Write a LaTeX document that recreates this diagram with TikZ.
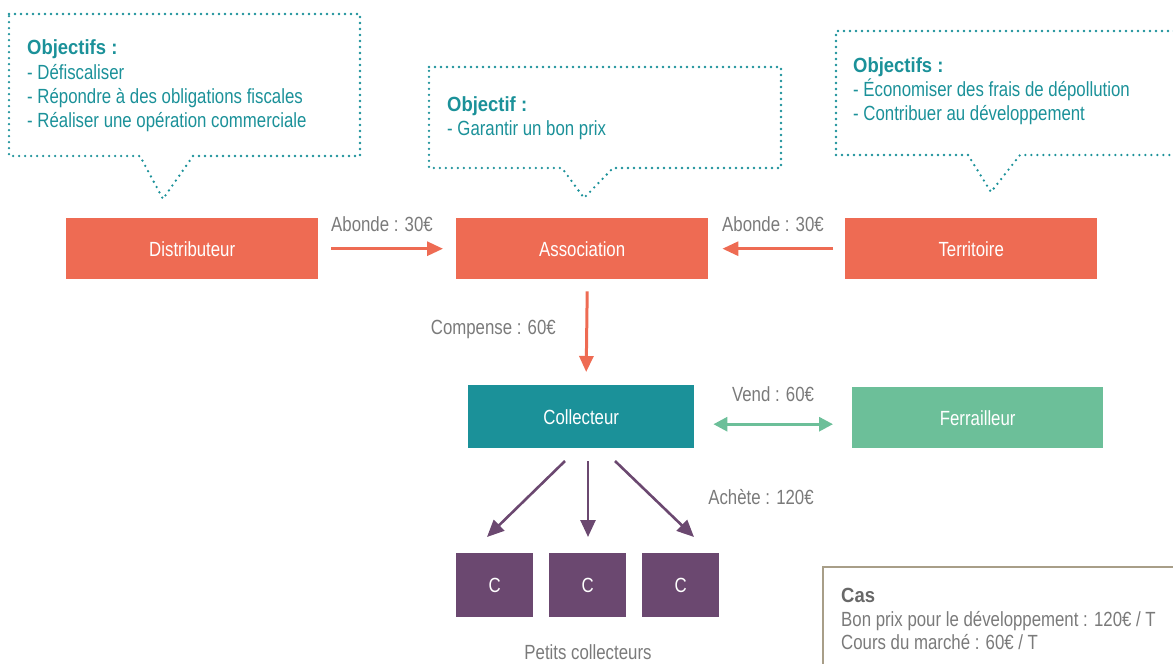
\documentclass[tikz,border=0pt]{standalone}
\usepackage{fontspec}
\setmainfont{Liberation Sans}[FakeStretch=0.82, BoldFeatures={FakeStretch=0.9}]
\usetikzlibrary{arrows.meta}

\definecolor{orangebox}{HTML}{EE6B53}
\definecolor{tealbox}{HTML}{1B9199}
\definecolor{greenbox}{HTML}{6CBF99}
\definecolor{purplebox}{HTML}{6B4870}
\definecolor{greytext}{HTML}{7A7A7A}
\definecolor{casframe}{HTML}{A89E88}

\tikzset{
  txt/.style={font=\fontsize{20.5}{24}\selectfont, inner sep=0pt},
  objtitle/.style={txt, font=\fontsize{20.5}{24}\selectfont\bfseries, text=tealbox, anchor=base west},
  objline/.style={txt, text=tealbox, anchor=base west},
  callout/.style={draw=tealbox, line width=2.6pt, dash pattern=on 0pt off 6pt, line cap=round, line join=round},
  flowbox/.style={txt, text=white, minimum width=252pt, minimum height=61pt, anchor=north west},
  smallbox/.style={txt, text=white, fill=purplebox, minimum width=77pt, minimum height=64pt, anchor=north west},
  lbl/.style={txt, text=greytext},
  orarrow/.style={draw=orangebox, line width=3pt, -{Triangle[length=16pt,width=14pt]}},
  purarrow/.style={draw=purplebox, line width=2.6pt, -{Triangle[length=17pt,width=15pt]}},
  grarrow/.style={draw=greenbox, line width=3pt, {Triangle[length=14pt,width=14pt]}-{Triangle[length=14pt,width=14pt]}},
}

\begin{document}
\begin{tikzpicture}[x=1pt,y=-1pt]
\useasboundingbox (0,0) rectangle (1173,664);

% speech bubbles with the goals of each actor
\draw[callout] (9,14) -- (360,14) -- (360,156) -- (193,156) -- (163,199) -- (140,156) -- (9,156) -- cycle;
\node[objtitle] (o1t) at (27,54) {Objectifs :};
\node[objline] (o1a) at (27,79) {- Défiscaliser};
\node[objline] (o1b) at (27,103) {- Répondre à des obligations fiscales};
\node[objline] (o1c) at (27,127) {- Réaliser une opération commerciale};

\draw[callout] (429,67) -- (781,67) -- (781,168) -- (613,168) -- (584,198) -- (562,168) -- (429,168) -- cycle;
\node[objtitle] (o2t) at (447,111) {Objectif :};
\node[objline] (o2a) at (447,135) {- Garantir un bon prix};

\draw[callout] (1180,31) -- (836,31) -- (836,155) -- (968,155) -- (991,192) -- (1020,155) -- (1180,155);
\node[objtitle] (o3t) at (853,72) {Objectifs :};
\node[objline] (o3a) at (853,96) {- Économiser des frais de dépollution};
\node[objline] (o3b) at (853,120) {- Contribuer au développement};

% main actors
\node[flowbox, fill=orangebox] (dist) at (66,218) {Distributeur};
\node[flowbox, fill=orangebox] (asso) at (456,218) {Association};
\node[flowbox, fill=orangebox] (terr) at (845,218) {Territoire};
\node[flowbox, fill=tealbox, minimum width=226pt, minimum height=63pt] (coll) at (468,385) {Collecteur};
\node[flowbox, fill=greenbox, minimum width=251pt] (ferr) at (852,387) {Ferrailleur};

% small collectors
\node[smallbox] (c1) at (456,553) {C};
\node[smallbox] (c2) at (549,553) {C};
\node[smallbox] (c3) at (642,553) {C};
\node[lbl, anchor=base] (petits) at (588,659) {Petits collecteurs};

% money flows (shifts are in page units: negative yshift goes down)
\draw[orarrow] ([xshift=13pt]dist.east) -- ([xshift=-13pt]asso.west);
\node[lbl] (l1) at (382,224) {Abonde : 30€};
\draw[orarrow] ([xshift=-12pt]terr.west) -- ([xshift=14pt]asso.east);
\node[lbl] (l2) at (773,224) {Abonde : 30€};
\draw[orarrow] ([xshift=5pt,yshift=-12pt]asso.south) -- ([xshift=5pt,yshift=13pt]coll.north);
\node[lbl, anchor=east] (l3) at (556,329) {Compense : 60€};
\draw[grarrow] ([xshift=19pt,yshift=-7.5pt]coll.east) -- ([xshift=-19pt,yshift=-6.5pt]ferr.west);
\node[lbl] (l4) at (773,394) {Vend : 60€};

\coordinate (s1) at (565,461);
\coordinate (s2) at (588,461);
\coordinate (s3) at (615,461);
\draw[purarrow] (s1) -- (487,537);
\draw[purarrow] (s2) -- (588,537);
\draw[purarrow] (s3) -- (694,537);
\node[lbl] (l5) at (761,497) {Achète : 120€};

% case box
\draw[casframe, line width=2.6pt] (823,664) -- (823,567) -- (1180,567);
\node[txt, font=\fontsize{20.5}{24}\selectfont\bfseries, text=greytext!85!black, anchor=base west] (cas) at (841,602) {Cas};
\node[txt, text=greytext, anchor=base west] (cas1) at (841,626) {Bon prix pour le développement : 120€ / T};
\node[txt, text=greytext, anchor=base west] (cas2) at (841,649) {Cours du marché : 60€ / T};
\end{tikzpicture}
\end{document}
